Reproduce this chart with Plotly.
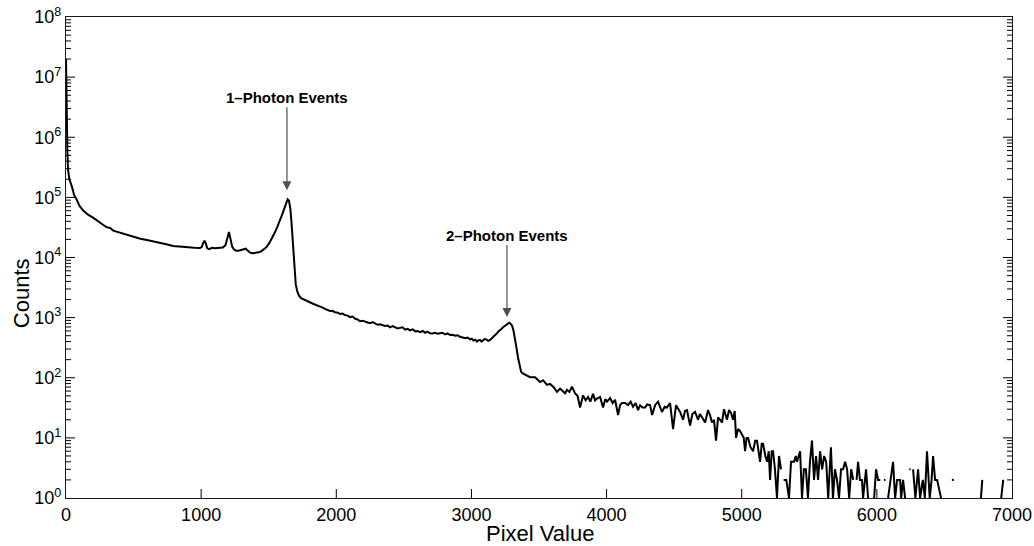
import plotly.graph_objects as go

# ---------------- data ----------------
pix_a = [0, 5, 10, 15, 25, 44, 60, 81, 100, 126, 160, 200, 240, 274, 300, 326, 350, 400, 450, 496,
         550, 599, 650, 696, 750, 792, 850, 895, 950, 992, 1005, 1015, 1025, 1035, 1045, 1060, 1080,
         1100, 1120, 1140, 1160, 1180, 1195, 1206, 1218, 1230, 1245, 1260, 1275, 1295, 1315, 1330,
         1345, 1365, 1385, 1405, 1425, 1445, 1465, 1485, 1505, 1525, 1545, 1565, 1585, 1600, 1615,
         1628, 1640, 1650, 1660, 1668, 1676, 1684, 1692, 1700, 1712, 1725, 1740]
cnt_a = [2.0e7, 2.0e6, 6.0e5, 2.9e5, 2.0e5, 1.5e5, 1.1e5, 9.0e4, 7.2e4, 6.1e4, 5.2e4, 4.6e4, 3.9e4,
         3.5e4, 3.2e4, 3.1e4, 2.8e4, 2.6e4, 2.35e4, 2.2e4, 2.05e4, 1.95e4, 1.85e4, 1.75e4, 1.65e4,
         1.55e4, 1.5e4, 1.48e4, 1.45e4, 1.44e4, 1.5e4, 1.75e4, 1.9e4, 1.7e4, 1.42e4, 1.38e4, 1.45e4,
         1.43e4, 1.45e4, 1.44e4, 1.46e4, 1.6e4, 2.3e4, 2.65e4, 2.0e4, 1.5e4, 1.35e4, 1.3e4, 1.3e4,
         1.33e4, 1.38e4, 1.4e4, 1.3e4, 1.2e4, 1.18e4, 1.19e4, 1.22e4, 1.27e4, 1.36e4, 1.5e4, 1.75e4,
         2.1e4, 2.6e4, 3.3e4, 4.2e4, 5.2e4, 6.5e4, 8.0e4, 9.3e4, 8.8e4, 6.5e4, 4.0e4, 2.0e4, 1.1e4,
         6.0e3, 3.6e3, 2.7e3, 2.3e3, 2.1e3]

pix_b = [1760, 1783, 1806, 1828, 1850, 1865, 1880, 1900, 1920, 1937, 1954, 1972, 1990, 2010, 2028,
         2046, 2065, 2084, 2102, 2120, 2140, 2158, 2176, 2195, 2215, 2232, 2250, 2270, 2290, 2307,
         2324, 2342, 2360, 2380, 2398, 2417, 2435, 2453, 2472, 2490, 2510, 2528, 2546, 2565, 2585,
         2602, 2620, 2640, 2657, 2675, 2694, 2712, 2730, 2750, 2768, 2787, 2805, 2823, 2842, 2860,
         2880, 2898, 2916, 2935, 2955, 2972, 2990, 3003, 3015, 3028, 3041, 3053, 3065, 3075, 3086,
         3098, 3110, 3124, 3138, 3150, 3165, 3177, 3189, 3200, 3212, 3223, 3234, 3245, 3255, 3263,
         3271, 3280, 3288, 3300, 3312, 3323, 3335, 3345, 3355, 3368, 3380]
cnt_b = [2000, 1880, 1740, 1700, 1620, 1580, 1510, 1470, 1380, 1350, 1290, 1300, 1230, 1210, 1150,
         1170, 1100, 1080, 1020, 1040, 955, 930, 870, 890, 850, 830, 810, 840, 795, 760,
         775, 750, 725, 740, 690, 720, 690, 660, 675, 690, 630, 650, 615, 640, 590,
         600, 575, 600, 560, 585, 550, 545, 560, 540, 550, 560, 525, 545, 515, 520,
         500, 510, 480, 470, 455, 465, 435, 445, 415, 430, 400, 420, 425, 400, 415,
         440, 435, 410, 425, 450, 480, 520, 550, 590, 615, 650, 690, 720, 760, 790,
         810, 820, 800, 740, 600, 455, 300, 215, 160, 125, 118]

pix_c = [3397, 3434, 3471, 3490, 3508, 3530, 3559, 3582, 3610, 3633, 3656, 3675, 3693, 3707, 3725,
         3744, 3767, 3785, 3804, 3826, 3845, 3863, 3880, 3900, 3915, 3929, 3952, 3974, 3990, 4003,
         4026, 4045, 4063, 4085, 4100, 4114, 4137, 4159, 4178, 4196, 4215, 4233, 4248, 4265, 4285,
         4300, 4322, 4337, 4359, 4381, 4396, 4410, 4430, 4447, 4470, 4492, 4514, 4530, 4544, 4566,
         4580, 4595, 4618, 4635, 4655, 4677, 4690, 4706, 4729, 4751, 4765, 4780, 4795, 4810, 4825,
         4840, 4854, 4869, 4880, 4891, 4906, 4921, 4936, 4948, 4958, 4973, 4988, 5002, 5015, 5025,
         5036, 5047, 5065, 5084, 5100, 5113, 5125, 5136, 5148, 5158, 5175, 5188, 5200, 5210, 5222,
         5232, 5246, 5261, 5276, 5291, 5300, 5310, 5330, 5350, 5365, 5387, 5400, 5409, 5420, 5432,
         5446, 5460, 5475, 5490, 5505, 5520, 5535, 5550, 5565, 5580, 5595, 5610, 5625, 5640, 5660,
         5675, 5690, 5705, 5720, 5735, 5750, 5765, 5780, 5795, 5810, 5825, 5840, 5850, 5861, 5875,
         5890, 5898, 5920, 5935, 5950, 5980, 5994, 6009, 6025, 6040, 6052, 6064, 6075, 6083, 6100,
         6120, 6135, 6150, 6172, 6180, 6194, 6209, 6225, 6240, 6250, 6260, 6268, 6285, 6305, 6320,
         6340, 6355, 6371, 6391, 6405, 6416, 6431, 6446, 6475, 6490, 6555, 6570, 6585, 6770, 6780,
         6790, 6920, 6935, 6950]
cnt_c = [112, 102, 102, 93, 85, 91, 76, 79, 69, 58, 66, 60, 55, 63, 58,
         71, 55, 50, 32, 51, 42, 48, 40, 54, 42, 45, 48, 32, 44, 40,
         46, 38, 43, 24, 35, 38, 38, 35, 40, 33, 38, 29, 35, 32, 32,
         36, 35, 24, 35, 40, 32, 27, 33, 32, 38, 14, 35, 30, 27, 20,
         28, 29, 16, 25, 27, 20, 25, 22, 18, 29, 24, 18, 20, 9, 22,
         20, 18, 30, 23, 20, 29, 26, 20, 28, 10, 14, 13, 11, 10, 6,
         10, 10, 7, 6, 9, 9, 6, 4, 8, 8, 5, 4, 6, 2, 6,
         6, 3, 1, 5, 3, None, 2, 2, 1, 4, 4, 5, 4, 5, 6,
         1, 3, 3, 1, 4, 9, 2, 5, 2, 6, 3, 5, 4, 1, 7,
         1, 3, 2, 1, 3, 3, 4, 3, 1, 3, 2, None, 2, 4, 2,
         2, 1, 3, 1, None, 1, 3, 2, 2, None, 2, 2, None, 1, 2,
         4, 1, 2, 2, 1, 2, 1, None, 3, 3, None, 3, 1, 3, 1,
         2, 1, 6, 1, 2, 5, 2, 2, 1, None, 2, 2, None, 1, 2,
         None, 1, 2, None]

pixel_value = pix_a + pix_b + pix_c
counts = cnt_a + cnt_b + cnt_c

x_ticks = [0, 1000, 2000, 3000, 4000, 5000, 6000, 7000]
y_decades = [0, 1, 2, 3, 4, 5, 6, 7, 8]
y_tick_vals = [10 ** d for d in y_decades]
y_tick_text = ["10<sup>%d</sup>" % d for d in y_decades]
y_minor_vals = [m * 10 ** d for d in y_decades[:-1] for m in range(2, 10)]

annot_text = ["1–Photon Events", "2–Photon Events"]
annot_x = [1635, 3263]
annot_logy = [5.12, 3.01]
annot_ay = [-93, -82]

FONT = "Liberation Sans, Arial, Helvetica, sans-serif"
AXC = "#1a1a1a"
MAJOR_LEN = 9
MINOR_LEN = 5
Y_LO, Y_HI = y_tick_vals[0], y_tick_vals[-1]

fig = go.Figure()
fig.add_trace(go.Scatter(x=pixel_value, y=counts, mode="lines",
                         line=dict(color="black", width=2), connectgaps=False,
                         hoverinfo="skip", showlegend=False))

for t, ax_, ay_, dy in zip(annot_text, annot_x, annot_logy, annot_ay):
    fig.add_annotation(x=ax_, y=ay_, xref="x", yref="y", text="<b>%s</b>" % t,
                       showarrow=True, ax=0, ay=dy, arrowhead=2, arrowsize=1.5,
                       arrowwidth=1.2, arrowcolor="#505050",
                       font=dict(family=FONT, size=15, color="black"))

fig.add_annotation(x=0.501, y=-0.074, xref="paper", yref="paper", text="Pixel Value",
                   showarrow=False, font=dict(family=FONT, size=22, color="black"),
                   xanchor="center", yanchor="middle")
fig.add_annotation(x=-0.0475, y=0.426, xref="paper", yref="paper", text="Counts",
                   showarrow=False, textangle=-90,
                   font=dict(family=FONT, size=22, color="black"),
                   xanchor="center", yanchor="middle")

# inside tick marks on all four sides, placed through the axes' own scales
tick_line = dict(color="black", width=1)
for xv in x_ticks[1:-1]:
    for anchor, sign in [(Y_LO, 1), (Y_HI, -1)]:
        fig.add_shape(type="line", xref="x", yref="y", x0=xv, x1=xv,
                      ysizemode="pixel", yanchor=anchor, y0=0, y1=sign * MAJOR_LEN,
                      line=tick_line, layer="above")
for vals, ln in [(y_tick_vals[1:-1], MAJOR_LEN), (y_minor_vals, MINOR_LEN)]:
    for yv in vals:
        for anchor, sign in [(0, 1), (1, -1)]:
            fig.add_shape(type="line", xref="paper", yref="y", y0=yv, y1=yv,
                          xsizemode="pixel", xanchor=anchor, x0=0, x1=sign * ln,
                          line=tick_line, layer="above")

axis_base = dict(showline=True, linecolor=AXC, linewidth=1.3, showgrid=False,
                 zeroline=False, ticks="", mirror=True, automargin=False,
                 tickfont=dict(family=FONT, size=18, color="black"))

fig.update_xaxes(range=[0, 7000], tickmode="array", tickvals=x_ticks,
                 ticktext=[str(v) for v in x_ticks], **axis_base)
fig.update_yaxes(type="log", range=[0, 8], tickmode="array", tickvals=y_tick_vals,
                 ticktext=y_tick_text, **axis_base)

fig.update_layout(width=1034, height=546, margin=dict(l=66, r=22, t=17, b=48),
                  paper_bgcolor="white", plot_bgcolor="white",
                  font=dict(family=FONT, color="black"), hovermode=False)

fig.write_html("out.html", config={"displayModeBar": False})
